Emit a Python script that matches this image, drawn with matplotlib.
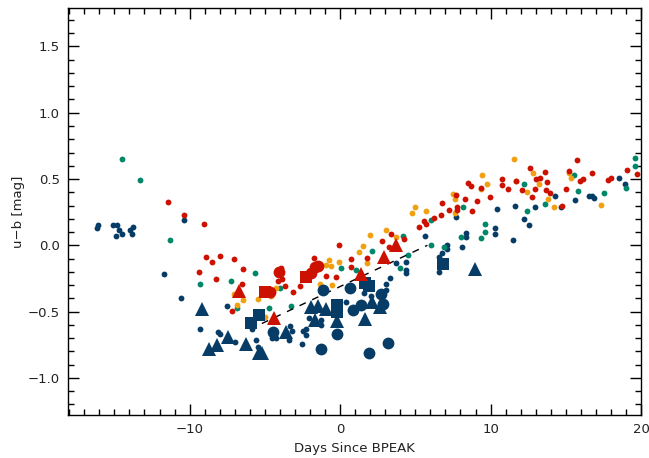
import numpy as np
import matplotlib.pyplot as plt

# colours
navy = '#063c66'
red = '#cc1100'
orange = '#f0a010'
teal = '#00876a'

# ---------------------------------------------------------- small dots
navy_x = [-16.14, -16.07, -15.08, -14.85, -14.68, -14.52, -14.92, -13.99, -13.73, -13.86,
          -10.38, -11.70, -10.58, -9.29, -8.13, -7.95, -6.97, -5.61, -7.50, -5.48,
          -5.85, -4.52, -4.26, -3.31, -3.20, -3.38, -2.54, -2.27, -2.45, -2.27,
          -2.05, -1.28, -1.28, 0.42, 3.73, 4.35, 4.39, 4.35, 3.31, 3.07,
          3.07, 5.61, 6.60, 6.75, 7.09, 7.09, 6.60, 7.70, 8.08, 8.34,
          8.36, 10.26, 10.26, 10.42, 11.50, 11.59, 12.25, 12.56, 12.96, 14.28,
          14.68, 15.58, 16.54, 16.75, 16.89, 18.52, 18.94, 1.59, 2.03]
navy_y = [0.130, 0.151, 0.153, 0.153, 0.118, 0.088, 0.073, 0.115, 0.141, 0.083,
          0.189, -0.219, -0.397, -0.633, -0.651, -0.671, -0.728, -0.713, -0.458, -0.767,
          -0.633, -0.701, -0.701, -0.609, -0.646, -0.716, -0.747, -0.628, -0.646, -0.679,
          -0.545, -0.566, -0.601, -0.428, -0.136, -0.123, -0.186, -0.206, -0.247, -0.292,
          -0.337, 0.073, -0.085, -0.060, 0.005, -0.025, -0.198, 0.213, -0.013, 0.096,
          0.060, 0.128, 0.083, 0.274, 0.040, 0.294, 0.201, 0.153, 0.289, 0.372,
          0.292, 0.342, 0.372, 0.372, 0.360, 0.511, 0.465, -0.362, -0.382]

teal_x = [-14.52, -13.29, -11.28, -9.34, -7.28, -6.87, -5.65, -4.75, -3.97, -3.26,
          0.05, 1.04, 2.09, 4.01, 4.17, 4.52, 6.01, 6.01, 6.89, 8.06,
          8.15, 9.34, 9.60, 9.60, 12.19, 12.40, 13.62, 15.54, 15.83, 17.55,
          19.58, 19.62, 19.03]
teal_y = [0.654, 0.492, 0.038, -0.292, -0.269, -0.475, -0.211, -0.475, -0.319, -0.458,
          -0.171, -0.186, -0.043, -0.170, 0.073, -0.075, 0.191, 0.000, -0.010, 0.060,
          0.292, 0.058, 0.158, 0.100, 0.460, 0.256, 0.314, 0.533, 0.407, 0.392,
          0.661, 0.598, 0.430]

orange_x = [-7.02, -6.47, -6.87, -5.45, -4.59, -4.26, -5.01, -1.34, -0.51, -0.91,
            -0.73, -0.62, -0.05, 1.24, 1.54, 1.97, 1.79, 3.05, 3.71, 4.75,
            4.95, 5.68, 7.48, 7.66, 7.66, 9.34, 9.42, 9.74, 11.54, 11.66,
            12.43, 12.85, 13.23, 13.84, 14.24, 15.23, 15.34, 17.35]
orange_y = [-0.364, -0.412, -0.450, -0.407, -0.382, -0.324, -0.541, -0.294, -0.296, -0.151,
            -0.113, -0.158, -0.128, -0.051, -0.005, 0.081, -0.133, 0.113, 0.066, 0.240,
            0.289, 0.259, 0.385, 0.347, 0.244, 0.425, 0.528, 0.462, 0.649, 0.483,
            0.405, 0.548, 0.465, 0.347, 0.289, 0.543, 0.505, 0.304]

red_x = [-11.46, -10.40, -9.03, -9.38, -8.89, -8.52, -8.01, -7.02, -6.42, -8.23,
         -6.51, -7.17, -3.64, -3.16, -2.67, -3.93, -3.86, -4.13, -1.74, -0.95,
         -0.25, -0.09, 0.73, 0.73, 1.77, 2.80, 3.25, 3.38, 4.26, 5.25,
         5.60, 5.71, 6.25, 6.69, 6.74, 7.26, 7.73, 7.79, 7.79, 8.32,
         8.50, 8.72, 8.79, 9.07, 9.36, 9.93, 10.77, 10.77, 11.17, 11.70,
         12.07, 12.60, 12.78, 12.96, 13.05, 13.31, 13.60, 13.66, 13.75, 13.97,
         14.77, 15.01, 15.19, 15.74, 15.91, 16.14, 16.75, 17.81, 17.97, 19.09,
         19.72]
red_y = [0.324, 0.228, 0.164, -0.204, -0.087, -0.126, -0.081, -0.106, -0.176, -0.254,
         -0.289, -0.498, -0.304, -0.352, -0.307, -0.168, -0.256, -0.269, -0.098, -0.232,
         -0.239, 0.005, -0.100, -0.162, -0.093, 0.035, -0.010, 0.083, 0.051, 0.136,
         0.183, 0.164, 0.204, 0.232, 0.317, 0.269, 0.377, 0.287, 0.264, 0.347,
         0.470, 0.450, 0.259, 0.337, 0.430, 0.367, 0.500, 0.452, 0.428, 0.485,
         0.417, 0.581, 0.364, 0.428, 0.498, 0.508, 0.553, 0.415, 0.475, 0.394,
         0.296, 0.422, 0.560, 0.643, 0.483, 0.503, 0.543, 0.492, 0.511, 0.568,
         0.535]

# ---------------------------------------------------------- big symbols
navy_tri_x = [-9.16, -8.68, -8.17, -7.48, -6.27, -5.36, -5.17, -3.60, -1.94, -1.50,
              -0.95, -1.66, -0.18, 1.64, 2.10, 2.63, 8.99]
navy_tri_y = [-0.483, -0.779, -0.749, -0.692, -0.741, -0.814, -0.814, -0.654, -0.465, -0.458,
              -0.477, -0.566, -0.571, -0.553, -0.425, -0.465, -0.176]
navy_sq_x = [-5.91, -5.36, -0.22, -0.22, 1.66, 1.92, 6.87]
navy_sq_y = [-0.583, -0.526, -0.449, -0.505, -0.287, -0.305, -0.143]
navy_ci_x = [-4.48, -1.11, 0.68, 2.70, 2.86, 1.42, 0.89, -0.20, -1.28, 1.91, 3.20]
navy_ci_y = [-0.655, -0.339, -0.321, -0.366, -0.443, -0.447, -0.488, -0.671, -0.782, -0.814, -0.734]

red_tri_x = [-6.69, -4.37, 1.41, 2.91, 3.71]
red_tri_y = [-0.345, -0.545, -0.219, -0.090, 0.000]
red_sq_x = [-4.97, -2.27]
red_sq_y = [-0.352, -0.236]
red_ci_x = [-4.64, -4.04, -1.94, -1.44, -1.66]
red_ci_y = [-0.351, -0.201, -0.211, -0.156, -0.166]

# dashed linear fit
fit_x = [-5.2, 5.8]
fit_y = [-0.59, 0.0]

fig = plt.figure(figsize=(6.49, 4.58), dpi=100)
ax = fig.add_axes([0.1048, 0.0939, 0.883, 0.8886])

ms = 4.2
ax.plot(navy_x, navy_y, 'o', color=navy, ms=ms, mew=0, zorder=2)
ax.plot(teal_x, teal_y, 'o', color=teal, ms=ms, mew=0, zorder=2)
ax.plot(orange_x, orange_y, 'o', color=orange, ms=ms, mew=0, zorder=2)
ax.plot(red_x, red_y, 'o', color=red, ms=ms, mew=0, zorder=2)

ax.plot(fit_x, fit_y, color='black', lw=1.0, dashes=(5, 5), zorder=3)

ax.plot(navy_tri_x, navy_tri_y, '^', color=navy, ms=10.5, mew=0, zorder=4)
ax.plot(navy_sq_x, navy_sq_y, 's', color=navy, ms=8.5, mew=0, zorder=4)
ax.plot(navy_ci_x, navy_ci_y, 'o', color=navy, ms=8.5, mew=0, zorder=4)
ax.plot(red_tri_x, red_tri_y, '^', color=red, ms=10.5, mew=0, zorder=5)
ax.plot(red_sq_x, red_sq_y, 's', color=red, ms=8.5, mew=0, zorder=5)
ax.plot(red_ci_x, red_ci_y, 'o', color=red, ms=8.5, mew=0, zorder=5)

ax.set_xlim(-18.08, 20.0)
ax.set_ylim(-1.28, 1.79)
ax.set_xticks([-10, 0, 10, 20])
ax.set_xticks(np.arange(-18, 21, 1), minor=True)
ax.set_yticks([-1.0, -0.5, 0.0, 0.5, 1.0, 1.5])
ax.set_yticklabels(['\u22121.0', '\u22120.5', '0.0', '0.5', '1.0', '1.5'])
ax.set_xticklabels(['\u221210', '0', '10', '20'])
ax.set_yticks(np.arange(-1.2, 1.8, 0.1), minor=True)
ax.tick_params(which='both', direction='in', top=True, right=True,
               labelsize=9.5, labelcolor='#222222', pad=6)
ax.tick_params(which='major', length=8, width=1.0)
ax.tick_params(which='minor', length=4, width=1.0)
for s in ax.spines.values():
    s.set_linewidth(1.0)

ax.set_xlabel('Days Since BPEAK', fontsize=9.5, color='#222222', labelpad=4)
ax.set_ylabel('u\u2212b [mag]', fontsize=9.5, color='#222222', labelpad=2)

fig.savefig('out.png', dpi=100)
